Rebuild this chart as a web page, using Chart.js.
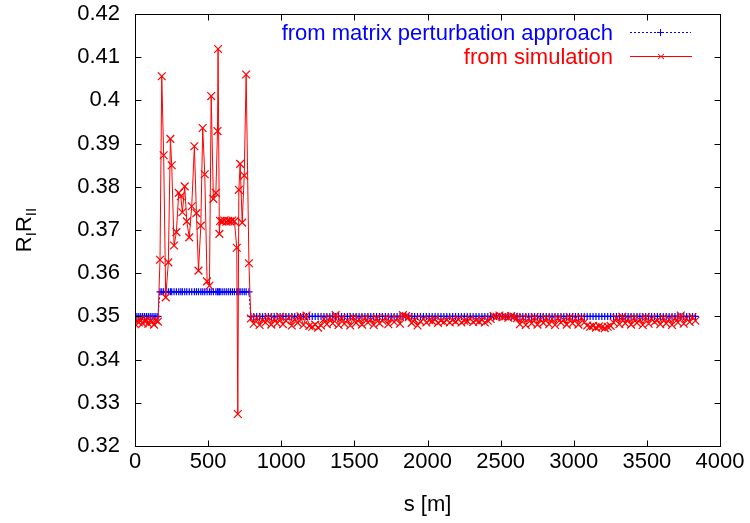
<!DOCTYPE html>
<html><head><meta charset="utf-8">
<script src="https://cdn.jsdelivr.net/npm/chart.js@4/dist/chart.umd.min.js"></script>
<style>html,body{margin:0;padding:0;background:#fff;}canvas{display:block;}</style>
</head><body>
<canvas id="c" width="750" height="523"></canvas>
<script>
// ---- data ----
const sPositions = [
  0,13,26,39,52,65,78,91,104,117,130,143,157,
  171,183,196,210,228,242,251,267,283,299,313,324,340,354,371,388,406,420,434,450,
  463,477,493,509,521,536,553,564,568,577,582,596,610,624,638,652,666,680,696,703,
  710,719,733,747,760,779,
  792,812,832,852,872,892,912,932,952,972,992,1012,1032,1052,1072,1092,1112,1132,1152,1172,
  1192,1212,1232,1252,1272,1292,1312,1332,1352,1372,1392,1412,1432,1452,1472,1492,1512,1532,1552,1572,
  1592,1612,1632,1652,1672,1692,1712,1732,1752,1772,1792,1812,1832,1852,1872,1892,1912,1932,1952,1972,
  1992,2012,2032,2052,2072,2092,2112,2132,2152,2172,2192,2212,2232,2252,2272,2292,2312,2332,2352,2372,
  2392,2412,2432,2452,2472,2492,2512,2532,2552,2572,2592,2612,2632,2652,2672,2692,2712,2732,2752,2772,
  2792,2812,2832,2852,2872,2892,2912,2932,2952,2972,2992,3012,3032,3052,3072,3092,3112,3132,3152,3172,
  3192,3212,3232,3252,3272,3292,3312,3332,3352,3372,3392,3412,3432,3452,3472,3492,3512,3532,3552,3572,
  3592,3612,3632,3652,3672,3692,3712,3732,3752,3772,3792,3812,3832
];
const simulation = [
  0.3482,0.3490,0.3486,0.3491,0.3484,0.3489,0.3492,0.3483,0.3490,0.3487,0.3481,0.3491,0.3488,
  0.3631,0.4056,0.3873,0.3544,0.3625,0.3911,0.3850,0.3664,0.3695,0.3786,
  0.3778,0.3741,0.3801,0.3720,0.3683,0.3755,0.3894,0.3739,0.3606,0.3710,
  0.3936,0.3829,0.3581,0.3571,0.4010,0.3772,0.3786,0.3929,0.4119,0.3691,
  0.3721,0.3720,0.3722,0.3719,0.3721,0.3720,0.3722,0.3720,0.3659,0.3274,
  0.3793,0.3853,0.3717,0.3826,0.4060,0.3623,
  0.3495,0.3483,0.3497,0.3480,0.3492,0.3486,0.3498,0.3481,0.3494,0.3484,
  0.3499,0.3482,0.3490,0.3497,0.3479,0.3493,0.3485,0.3500,0.3480,0.3502,
  0.3478,0.3476,0.3481,0.3474,0.3479,0.3494,0.3482,0.3497,0.3484,0.3503,
  0.3480,0.3496,0.3483,0.3491,0.3479,0.3498,0.3485,0.3493,0.3481,0.3497,
  0.3486,0.3492,0.3480,0.3496,0.3484,0.3490,0.3497,0.3482,0.3494,0.3487,
  0.3495,0.3483,0.3503,0.3501,0.3498,0.3485,0.3492,0.3479,0.3488,0.3494,
  0.3486,0.3491,0.3489,0.3493,0.3485,0.3490,0.3487,0.3492,0.3486,0.3491,
  0.3488,0.3493,0.3486,0.3490,0.3489,0.3494,0.3487,0.3491,0.3488,0.3492,
  0.3486,0.3490,0.3494,0.3501,0.3499,0.3502,0.3498,0.3500,0.3497,0.3501,
  0.3499,0.3496,0.3482,0.3497,0.3480,0.3495,0.3484,0.3498,0.3481,0.3493,
  0.3485,0.3497,0.3482,0.3494,0.3480,0.3496,0.3486,0.3492,0.3481,0.3498,
  0.3484,0.3495,0.3481,0.3497,0.3486,0.3479,0.3476,0.3478,0.3474,0.3477,
  0.3475,0.3473,0.3476,0.3478,0.3486,0.3496,0.3482,0.3499,0.3484,0.3494,
  0.3481,0.3497,0.3485,0.3492,0.3480,0.3498,0.3483,0.3495,0.3487,0.3491,
  0.3482,0.3497,0.3484,0.3493,0.3480,0.3496,0.3486,0.3502,0.3483,0.3495,
  0.3487,0.3498,0.3490
];
const perturbation = [
  0.35,0.35,0.35,0.35,0.35,0.35,0.35,0.35,0.35,0.35,0.35,0.35,0.35,
  0.3557,0.3557,0.3557,0.3557,0.3557,0.3557,0.3557,0.3557,0.3557,0.3557,
  0.3557,0.3557,0.3557,0.3557,0.3557,0.3557,0.3557,0.3557,0.3557,0.3557,
  0.3557,0.3557,0.3557,0.3557,0.3557,0.3557,0.3557,0.3557,0.3557,0.3557,
  0.3557,0.3557,0.3557,0.3557,0.3557,0.3557,0.3557,0.3557,0.3557,0.3557,
  0.3557,0.3557,0.3557,0.3557,0.3557,0.3557,
  0.35,0.35,0.35,0.35,0.35,0.35,0.35,0.35,0.35,0.35,0.35,0.35,0.35,0.35,0.35,0.35,0.35,0.35,0.35,0.35,
  0.35,0.35,0.35,0.35,0.35,0.35,0.35,0.35,0.35,0.35,0.35,0.35,0.35,0.35,0.35,0.35,0.35,0.35,0.35,0.35,
  0.35,0.35,0.35,0.35,0.35,0.35,0.35,0.35,0.35,0.35,0.35,0.35,0.35,0.35,0.35,0.35,0.35,0.35,0.35,0.35,
  0.35,0.35,0.35,0.35,0.35,0.35,0.35,0.35,0.35,0.35,0.35,0.35,0.35,0.35,0.35,0.35,0.35,0.35,0.35,0.35,
  0.35,0.35,0.35,0.35,0.35,0.35,0.35,0.35,0.35,0.35,0.35,0.35,0.35,0.35,0.35,0.35,0.35,0.35,0.35,0.35,
  0.35,0.35,0.35,0.35,0.35,0.35,0.35,0.35,0.35,0.35,0.35,0.35,0.35,0.35,0.35,0.35,0.35,0.35,0.35,0.35,
  0.35,0.35,0.35,0.35,0.35,0.35,0.35,0.35,0.35,0.35,0.35,0.35,0.35,0.35,0.35,0.35,0.35,0.35,0.35,0.35,
  0.35,0.35,0.35,0.35,0.35,0.35,0.35,0.35,0.35,0.35,0.35,0.35,0.35
];
const xTicks = [0,500,1000,1500,2000,2500,3000,3500,4000];
const yTicks = [0.32,0.33,0.34,0.35,0.36,0.37,0.38,0.39,0.40,0.41,0.42];
const seriesNames = ['from matrix perturbation approach', 'from simulation'];
const xTitle = 's [m]';

const FONT = '"Liberation Sans", Arial, sans-serif';
const BLUE = '#0000ff', RED = '#ff0000';

const decor = {
  id: 'decor',
  afterDraw(chart) {
    const ctx = chart.ctx, a = chart.chartArea;
    const xs = chart.scales.x, ys = chart.scales.y;
    const L = Math.round(a.left) + 0.5, R = Math.round(a.right) + 0.5;
    const T = Math.round(a.top) + 0.5, B = Math.round(a.bottom) + 0.5;
    ctx.save();
    ctx.strokeStyle = '#000'; ctx.lineWidth = 1;
    ctx.strokeRect(L, T, R - L, B - T);
    const tl = 6;
    ctx.beginPath();
    xTicks.forEach(v => {
      const px = Math.round(xs.getPixelForValue(v)) + 0.5;
      ctx.moveTo(px, B); ctx.lineTo(px, B - tl);
      ctx.moveTo(px, T); ctx.lineTo(px, T + tl);
    });
    yTicks.forEach(v => {
      const py = Math.round(ys.getPixelForValue(v)) + 0.5;
      ctx.moveTo(L, py); ctx.lineTo(L + tl, py);
      ctx.moveTo(R, py); ctx.lineTo(R - tl, py);
    });
    ctx.stroke();

    // x title
    ctx.fillStyle = '#000';
    ctx.font = '22px ' + FONT;
    ctx.textAlign = 'center'; ctx.textBaseline = 'alphabetic';
    ctx.fillText(xTitle, (a.left + a.right) / 2, 511);

    // y title R_I R_II (rotated)
    ctx.save();
    ctx.translate(31, (a.top + a.bottom) / 2);
    ctx.rotate(-Math.PI / 2);
    const big = '22px ' + FONT, small = '15px ' + FONT;
    const parts = [['R', big, 0], ['I', small, 5], ['R', big, 0], ['II', small, 5]];
    let total = 0;
    parts.forEach(p => { ctx.font = p[1]; total += ctx.measureText(p[0]).width; });
    let x = -total / 2;
    ctx.textAlign = 'left';
    parts.forEach(p => { ctx.font = p[1]; ctx.fillText(p[0], x, p[2]); x += ctx.measureText(p[0]).width; });
    ctx.restore();

    // legend
    ctx.font = '22px ' + FONT;
    ctx.textAlign = 'right'; ctx.textBaseline = 'alphabetic';
    ctx.fillStyle = BLUE; ctx.fillText(seriesNames[0], 613, 40);
    ctx.fillStyle = RED; ctx.fillText(seriesNames[1], 613, 64);
    // blue sample
    ctx.strokeStyle = BLUE; ctx.setLineDash([2, 2]);
    ctx.beginPath(); ctx.moveTo(630, 32.5); ctx.lineTo(691, 32.5); ctx.stroke();
    ctx.setLineDash([]);
    ctx.beginPath(); ctx.moveTo(657, 32.5); ctx.lineTo(664, 32.5); ctx.moveTo(660.5, 29); ctx.lineTo(660.5, 36); ctx.stroke();
    // red sample
    ctx.strokeStyle = RED;
    ctx.beginPath(); ctx.moveTo(630, 56.5); ctx.lineTo(692, 56.5); ctx.stroke();
    ctx.beginPath(); ctx.moveTo(658, 54); ctx.lineTo(664, 59); ctx.moveTo(664, 54); ctx.lineTo(658, 59); ctx.stroke();
    ctx.restore();
  }
};

new Chart(document.getElementById('c'), {
  type: 'line',
  data: {
    datasets: [
      {
        label: seriesNames[1],
        data: sPositions.map((s, i) => ({ x: s, y: simulation[i] })),
        borderColor: RED, backgroundColor: RED, borderWidth: 1,
        pointStyle: 'crossRot', pointRadius: 5.5, pointBorderWidth: 1.2,
        pointBorderColor: RED, pointBackgroundColor: RED,
        tension: 0, order: 0, fill: false
      },
      {
        label: seriesNames[0],
        data: sPositions.map((s, i) => ({ x: s, y: perturbation[i] })),
        borderColor: BLUE, backgroundColor: BLUE, borderWidth: 1, borderDash: [2, 2],
        pointStyle: 'cross', pointRadius: 3.5, pointBorderWidth: 1.2,
        pointBorderColor: BLUE, pointBackgroundColor: BLUE,
        tension: 0, order: 1, fill: false
      }
    ]
  },
  options: {
    responsive: false, animation: false, devicePixelRatio: 1,
    layout: { padding: { left: 0, right: 30, top: 14, bottom: 0 } },
    plugins: { legend: { display: false }, tooltip: { enabled: false } },
    scales: {
      x: {
        type: 'linear', min: 0, max: 4000,
        afterBuildTicks: s => { s.ticks = xTicks.map(v => ({ value: v })); },
        afterFit: s => { s.height = 77; s.paddingLeft = 0; s.paddingRight = 0; },
        grid: { display: false, drawTicks: false }, border: { display: false },
        ticks: { color: '#000', font: { family: FONT, size: 22 }, padding: 3, maxRotation: 0, autoSkip: false,
                 callback: v => String(v) }
      },
      y: {
        type: 'linear', min: 0.32, max: 0.42,
        afterBuildTicks: s => { s.ticks = yTicks.map(v => ({ value: v })); },
        afterFit: s => { s.width = 135; s.paddingTop = 0; s.paddingBottom = 0; },
        grid: { display: false, drawTicks: false }, border: { display: false },
        ticks: { color: '#000', font: { family: FONT, size: 22 }, padding: 15, autoSkip: false,
                 callback: v => String(+(+v).toFixed(2)) }
      }
    }
  },
  plugins: [decor]
});
</script>
</body></html>
